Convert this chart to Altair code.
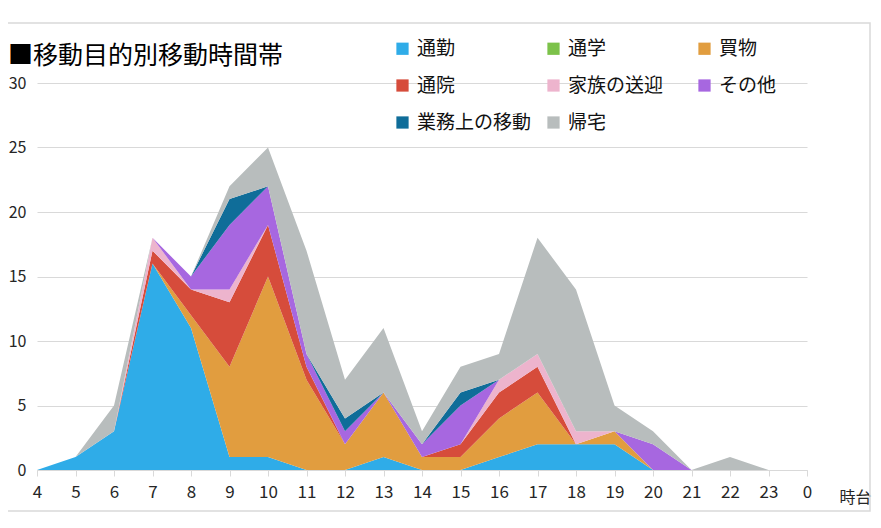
import altair as alt
import pandas as pd

hours = ["4", "5", "6", "7", "8", "9", "10", "11", "12", "13", "14",
         "15", "16", "17", "18", "19", "20", "21", "22", "23", "0"]

series = ["通勤", "通学", "買物", "通院", "家族の送迎", "その他", "業務上の移動", "帰宅"]
colors = ["#2FACE8", "#7CC24A", "#E19D3F", "#D64C3B", "#EDB4CD", "#A767E0", "#0F6D99", "#B8BDBD"]

tsukin   = [0, 1, 3, 16, 11, 1, 1, 0, 0, 1, 0, 0, 1, 2, 2, 2, 0, 0, 0, 0, 0]
tsugaku  = [0] * 21
kaimono  = [0, 0, 0, 0, 1, 7, 14, 7, 2, 5, 1, 1, 3, 4, 0, 1, 0, 0, 0, 0, 0]
tsuin    = [0, 0, 0, 1, 2, 5, 4, 1, 0, 0, 0, 1, 2, 2, 0, 0, 0, 0, 0, 0, 0]
sogei    = [0, 0, 0, 1, 0, 1, 0, 0, 0, 0, 0, 0, 1, 1, 1, 0, 0, 0, 0, 0, 0]
sonota   = [0, 0, 0, 0, 1, 5, 3, 1, 1, 0, 1, 3, 0, 0, 0, 0, 2, 0, 0, 0, 0]
gyomu    = [0, 0, 0, 0, 0, 2, 0, 0, 1, 0, 0, 1, 0, 0, 0, 0, 0, 0, 0, 0, 0]
kitaku   = [0, 0, 2, 0, 0, 1, 3, 8, 3, 5, 1, 2, 2, 9, 11, 2, 1, 0, 1, 0, 0]

values = [tsukin, tsugaku, kaimono, tsuin, sogei, sonota, gyomu, kitaku]

rows = []
for si, (name, vals) in enumerate(zip(series, values)):
    for h, v in zip(hours, vals):
        rows.append({"hour": h, "series": name, "order": si, "count": v})
df = pd.DataFrame(rows)

FONT = "Noto Sans CJK JP"
GRID = "#D9D9D9"

area = alt.Chart(df).mark_area(opacity=1).encode(
    x=alt.X("hour:O", sort=hours, scale=alt.Scale(type="point", padding=0),
            axis=alt.Axis(title="時台", labelAngle=0, labelFontSize=17, labelColor="#262626",
                          labelFont=FONT, labelPadding=8, tickSize=6, tickColor=GRID,
                          domainColor=GRID, grid=False,
                          titleFont=FONT, titleFontSize=16, titleFontWeight="normal",
                          titleColor="#262626", titleAlign="left", titleBaseline="middle",
                          titleAnchor="start", titleX=802, titleY=27)),
    y=alt.Y("count:Q", stack="zero",
            scale=alt.Scale(domain=[0, 30], nice=False),
            axis=alt.Axis(title=None, values=[0, 5, 10, 15, 20, 25, 30], labelFontSize=16,
                          labelColor="#262626", labelFont=FONT, labelPadding=11,
                          ticks=False, domain=False, gridColor=GRID, gridWidth=1)),
    color=alt.Color("series:N", scale=alt.Scale(domain=series, range=colors),
                    legend=alt.Legend(title=None, orient="none", legendX=356, legendY=-44,
                                      direction="horizontal",
                                      columns=3, gridAlign="all", columnPadding=12,
                                      rowPadding=17, symbolType="square", symbolSize=150,
                                      symbolStrokeWidth=0, labelFont=FONT, labelFontSize=19,
                                      labelColor="#111111", labelOffset=5, labelLimit=300)),
    order=alt.Order("order:Q", sort="ascending"),
)

frame = alt.Chart(alt.Data(values=[{"a": 1}])).mark_rect(
    fill=None, stroke=GRID, strokeWidth=1.5
).encode(
    x=alt.value(-60), x2=alt.value(833), y=alt.value(-60), y2=alt.value(428)
)

chart = alt.layer(frame, area).properties(
    width=770, height=387,
    title=alt.Title("■移動目的別移動時間帯", anchor="start", frame="group", font=FONT,
                    fontSize=25, fontWeight="normal", color="#000000", dx=-29, dy=47,
                    offset=0),
    autosize=alt.AutoSizeParams(type="none"),
    padding={"left": 29, "top": 75, "right": 66, "bottom": 42},
).configure_view(stroke=None)

chart.save("out.html", embed_options={"renderer": "svg", "actions": False})
